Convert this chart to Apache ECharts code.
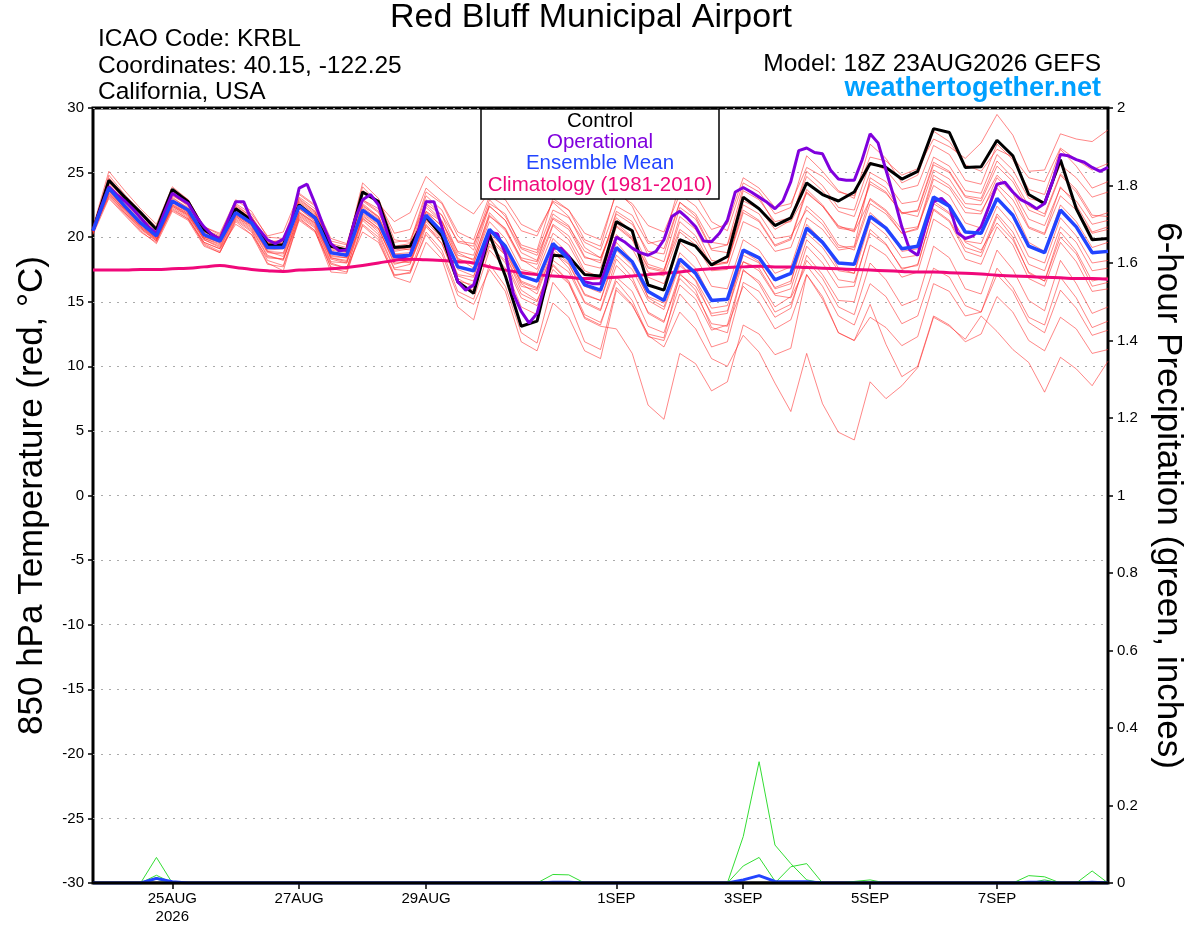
<!DOCTYPE html>
<html><head><meta charset="utf-8">
<script src="https://cdn.jsdelivr.net/npm/echarts@6/dist/echarts.min.js"></script>
<style>html,body{margin:0;padding:0;background:#fff}#c{width:1200px;height:927px}</style>
</head><body><div id="c"></div>
<script>
// 3-hourly time slots from 18Z 23AUG2026 (f000 .. f384)
const steps = Array.from({length:129}, (_, j) => 'f' + String(j*3).padStart(3,'0'));
const tickIdx = [10,26,42,66,82,98,114];
const tickLabels = ['25AUG\n2026','27AUG','29AUG','1SEP','3SEP','5SEP','7SEP'];

// 6-hourly series (65 values)
const control = [20.5, 24.4,23.1,21.9,20.6, 23.7,22.75,20.6,19.8, 22.2,21.3,19.4,19.4, 22.5,21.5,19.3,19.0, 23.5,22.75,19.2,19.3, 21.6,20.1,16.55,15.65, 20.2,17.0,13.1,13.5, 18.6,18.5,17.1,17.0, 21.2,20.5,16.3,15.9, 19.8,19.3,17.85,18.5, 23.1,22.2,20.9,21.5, 24.2,23.3,22.8,23.5, 25.7,25.4,24.5,25.1, 28.4,28.1,25.4,25.45, 27.5,26.3,23.3,22.6, 26.0,22.2,19.8,19.9];
const ensMean = [20.5, 23.8,22.4,21.1,20.1, 22.8,22.1,20.2,19.7, 21.9,21.1,19.2,19.2, 22.4,21.5,18.8,18.6, 22.1,21.2,18.5,18.6, 21.7,20.4,17.7,17.4, 20.6,19.3,17.0,16.6, 19.5,18.3,16.3,15.9, 19.2,18.1,15.8,15.1, 18.3,17.2,15.1,15.2, 19.0,18.4,16.7,17.2, 20.7,19.6,18.0,17.9, 21.6,20.7,19.1,19.3, 23.1,22.4,20.4,20.3, 23.0,21.7,19.3,18.8, 22.1,20.8,18.8,18.9];
const climatology = [17.45, 17.45,17.45,17.5,17.5, 17.55,17.6,17.7,17.8, 17.65,17.5,17.4,17.35, 17.45,17.5,17.55,17.65, 17.8,18.0,18.2,18.3, 18.25,18.2,18.1,18.0, 17.7,17.45,17.25,17.1, 17.0,16.9,16.8,16.85, 16.9,17.0,17.1,17.2, 17.3,17.45,17.55,17.65, 17.7,17.75,17.7,17.7, 17.65,17.6,17.55,17.5, 17.45,17.4,17.35,17.3, 17.3,17.25,17.2,17.15, 17.05,17.0,16.95,16.9, 16.85,16.8,16.8,16.75];

// operational, 3-hourly (129 values)
const operational = [20.5,22.3,23.9,23.3,22.8,22.2,21.5,20.8,20.3,21.9,
23.4,23.0,22.6,21.6,20.8,20.2,19.85,21.3,22.75,22.75,
21.3,20.55,19.8,19.5,19.85,21.2,23.8,24.1,22.6,20.95,
19.5,18.95,19.0,21.3,22.9,23.3,22.5,20.55,18.5,18.45,
18.6,20.4,22.75,22.75,20.8,18.5,16.55,15.9,16.3,18.25,
20.4,20.25,18.75,15.65,14.25,13.35,14.1,16.4,19.15,19.15,
18.5,17.2,16.55,16.4,16.4,18.2,20.0,19.65,19.15,18.8,
18.6,18.9,19.8,21.6,22.0,21.45,20.8,19.7,19.65,20.3,
21.3,23.5,23.85,23.5,23.1,22.7,22.2,22.8,24.3,26.7,
26.9,26.55,26.45,25.2,24.5,24.4,24.4,26.0,28.0,27.3,
25.2,23.1,20.8,19.0,18.6,20.8,22.75,23.0,22.4,20.35,
19.9,20.1,20.8,22.4,24.1,24.25,23.5,22.9,22.6,22.2,
22.6,24.3,26.4,26.3,26.0,25.8,25.4,25.1,25.4];

// ensemble members, 6-hourly
const member01 = [20.8, 25.1,23.6,22.2,21.0, 23.9,22.9,20.8,20.2, 22.6,21.8,20.1,20.4, 23.4,22.5,19.9,19.5, 23.6,22.8,20.3,20.6, 23.8,22.7,20.4,19.8, 23.2,22.4,20.5,20.1, 22.8,22.1,20.3,19.8, 23.4,22.6,20.9,20.4, 23.3,22.4,20.6,21.0, 24.6,23.8,22.3,22.6, 25.4,24.7,23.5,23.2, 26.2,25.9,24.8,25.3, 27.6,27.0,26.1,27.3, 29.5,27.9,25.1,25.2, 28.0,27.6,27.4,28.3];
const member02 = [20.4, 24.6,23.2,21.9,20.7, 23.6,22.8,20.6,19.9, 22.4,21.6,19.8,19.5, 23.1,22.2,19.5,19.2, 24.2,23.0,19.8,19.6, 23.5,22.6,20.1,19.0, 22.6,21.8,19.2,18.8, 22.1,21.5,19.6,19.0, 22.4,21.7,19.5,19.8, 24.1,23.3,21.2,20.5, 24.2,23.5,21.8,22.3, 26.3,25.1,23.6,23.0, 27.2,26.1,24.2,24.8, 28.2,27.4,25.6,25.1, 26.8,26.2,24.6,24.3, 26.9,26.0,25.2,25.7];
const member03 = [20.6, 24.2,22.9,21.5,20.6, 23.3,22.4,20.4,20.0, 22.3,21.5,19.7,19.6, 22.8,21.9,19.3,19.1, 23.9,22.6,21.2,21.9, 24.7,23.6,22.6,21.8, 23.5,22.9,21.0,20.4, 22.7,21.6,19.2,18.4, 21.5,20.4,17.9,17.5, 20.6,19.7,17.8,18.1, 22.1,21.3,19.4,19.9, 23.7,22.5,20.8,20.6, 24.1,23.4,21.9,22.0, 25.6,25.0,23.1,22.8, 25.5,24.3,22.1,21.6, 24.8,23.5,21.5,21.9];
const member04 = [20.5, 24.0,22.6,21.3,20.2, 23.0,22.3,20.4,19.8, 22.2,21.4,19.5,19.4, 22.7,21.8,19.1,18.9, 22.6,21.6,18.9,19.1, 22.5,21.3,18.6,18.3, 21.7,20.5,18.2,17.9, 21.0,20.1,17.9,17.6, 20.9,19.9,17.6,17.3, 21.2,20.1,17.8,18.0, 21.9,21.2,19.3,19.8, 23.5,22.4,20.7,20.5, 24.3,23.5,21.8,22.1, 25.8,25.1,23.2,23.0, 25.9,24.6,22.4,21.8, 24.9,23.7,21.7,21.6];
const member05 = [20.3, 23.5,22.1,20.8,19.8, 22.5,21.7,19.8,19.3, 21.6,20.8,18.8,18.7, 22.0,21.1,18.4,18.1, 21.6,20.7,18.0,18.1, 21.2,19.9,17.0,16.6, 19.8,18.6,16.2,15.9, 18.8,17.9,15.5,15.1, 18.6,17.5,15.1,14.4, 17.8,16.7,14.5,14.7, 18.6,18.0,16.1,16.6, 20.3,19.2,17.4,17.2, 21.2,20.2,18.4,18.6, 22.6,21.8,19.7,19.5, 22.4,21.0,18.5,18.0, 21.5,20.1,18.0,18.2];
const member06 = [20.2, 23.0,21.7,20.4,19.6, 22.2,21.4,19.5,18.9, 21.4,20.5,18.2,17.8, 21.6,20.7,17.6,17.3, 21.0,20.0,17.1,17.2, 20.4,19.0,15.8,15.2, 19.0,17.6,14.6,14.0, 17.5,16.4,13.8,13.2, 16.9,15.8,13.1,12.6, 16.3,15.2,12.8,13.2, 17.4,16.6,14.6,15.4, 19.3,18.0,16.1,16.2, 20.6,19.5,17.5,17.9, 22.1,21.2,18.9,18.5, 21.6,20.0,17.2,16.6, 20.4,18.9,16.6,16.9];
const member07 = [20.6, 23.9,22.5,21.1,20.0, 22.6,21.8,19.9,19.4, 21.7,20.9,18.9,18.5, 21.9,21.0,18.3,18.0, 21.4,20.6,18.2,18.6, 22.3,21.2,18.4,17.6, 20.2,18.6,15.9,15.1, 17.8,16.5,13.7,13.1, 12.9,11.0,7.0,5.9, 11.0,10.2,8.1,8.8, 13.2,12.5,10.9,11.4, 17.1,15.2,12.6,12.0, 13.8,13.0,11.6,12.3, 16.4,15.8,13.9,14.2, 17.6,16.1,13.8,13.2, 16.9,15.3,13.0,13.5];
const member08 = [20.4, 23.4,22.0,20.7,19.7, 22.4,21.6,19.6,19.1, 21.5,20.6,18.5,18.3, 21.7,20.8,18.0,17.6, 21.3,20.2,17.5,17.4, 20.8,19.5,16.4,15.9, 19.5,18.0,15.3,14.7, 17.9,16.6,14.0,13.4, 16.6,15.1,12.4,11.5, 14.2,12.9,10.6,10.0, 12.4,11.1,8.7,6.5, 11.0,7.1,4.9,4.3, 8.8,7.5,8.5,9.9, 13.8,13.1,12.1,13.9, 12.7,11.3,10.3,8.0, 10.7,9.8,8.5,10.4];
const member09 = [20.7, 23.7,22.3,21.0,20.2, 22.7,21.9,20.0,19.6, 21.8,21.0,19.0,19.1, 22.2,21.2,18.5,18.4, 21.8,20.9,18.3,18.0, 20.9,19.8,16.8,16.1, 19.3,18.2,15.6,15.0, 18.2,17.3,14.9,14.3, 17.8,16.6,14.2,13.5, 16.8,15.6,13.3,13.1, 16.2,15.0,12.9,13.6, 17.1,15.4,12.6,12.0, 14.8,11.7,9.2,10.0, 13.9,13.2,11.9,12.5, 15.4,14.2,12.0,11.2, 13.8,12.9,11.0,11.3];
const member10 = [20.3, 23.2,21.9,20.6,19.7, 22.3,21.5,19.4,18.8, 21.3,20.4,18.0,17.4, 21.5,20.5,17.3,17.2, 20.9,19.8,16.9,16.5, 19.6,18.3,14.6,13.6, 17.9,16.2,12.6,11.8, 16.5,15.0,11.9,11.3, 16.1,14.8,12.3,12.0, 15.6,14.2,11.5,11.9, 16.5,15.8,13.8,14.5, 18.6,17.1,15.1,15.0, 19.4,18.6,16.9,17.3, 21.4,20.6,18.3,17.9, 20.8,19.4,16.8,16.2, 19.6,18.1,15.8,16.0];
const member11 = [20.5, 24.3,22.9,21.6,20.4, 23.2,22.5,20.6,20.1, 22.1,21.3,19.6,19.8, 23.0,22.0,19.4,19.0, 22.9,22.0,19.2,19.0, 22.0,21.2,18.9,18.6, 22.4,21.3,18.8,18.2, 21.8,20.9,18.5,18.0, 22.0,21.2,18.6,18.1, 22.3,21.4,19.0,18.8, 23.6,22.9,21.2,21.5, 24.7,23.6,22.0,21.6, 25.0,24.3,22.6,22.8, 26.2,25.5,23.6,23.4, 26.4,25.2,23.0,22.7, 25.6,24.6,23.1,23.5];
const member12 = [20.6, 23.6,22.2,20.9,19.9, 22.7,21.9,20.0,19.6, 21.9,21.1,19.3,19.3, 22.5,21.6,18.9,18.5, 22.3,21.4,18.7,18.8, 22.0,20.8,18.3,18.0, 21.2,19.9,17.5,17.2, 20.3,19.4,17.2,17.0, 20.2,19.1,16.9,16.4, 19.6,18.5,16.2,16.0, 19.8,19.0,17.2,17.7, 21.5,20.6,19.0,19.2, 23.0,22.1,20.6,20.8, 24.0,23.2,21.1,20.7, 23.8,22.3,19.6,18.9, 22.5,21.2,19.2,19.6];
const member13 = [20.4, 23.3,21.9,20.7,19.8, 22.4,21.7,19.8,19.2, 21.6,20.7,18.6,18.2, 21.8,20.9,18.1,18.0, 21.5,20.4,17.6,17.9, 21.4,20.0,17.1,16.9, 20.6,19.0,16.4,15.6, 18.9,17.6,15.0,14.4, 18.3,16.9,14.1,13.4, 17.2,15.9,13.0,12.6, 17.5,16.4,14.2,14.8, 18.2,16.8,14.6,14.0, 18.0,16.7,14.7,15.2, 19.3,18.4,16.0,15.6, 19.0,17.5,15.1,14.3, 18.2,16.4,14.1,14.6];
const member14 = [20.7, 24.5,23.0,21.7,20.6, 23.5,22.6,20.5,20.0, 22.5,21.6,19.6,19.5, 22.9,22.0,19.2,18.9, 22.8,21.9,19.3,19.5, 23.2,22.1,19.6,19.3, 22.9,21.6,19.4,19.0, 23.0,22.1,19.8,19.3, 23.6,22.4,19.7,19.1, 22.7,21.6,19.1,19.4, 23.9,23.1,21.0,21.2, 23.4,22.4,20.9,20.4, 22.9,22.0,20.3,20.6, 24.5,23.8,21.9,21.8, 24.6,23.4,20.8,20.3, 23.9,22.5,20.4,20.8];
const member15 = [20.5, 23.1,21.8,20.5,19.5, 22.0,21.3,19.3,18.8, 21.2,20.2,17.9,17.7, 21.3,20.4,17.7,17.5, 21.7,20.7,17.9,18.2, 21.0,19.5,16.6,16.3, 20.0,18.8,16.5,16.0, 19.9,18.7,16.2,15.7, 19.6,18.2,15.3,14.6, 18.0,16.6,13.9,14.1, 18.9,18.1,16.0,16.4, 21.0,19.7,17.6,17.2, 21.9,20.8,18.9,19.1, 22.8,21.9,19.6,19.0, 21.1,19.8,17.3,16.6, 20.0,18.7,16.2,16.5];
const member16 = [20.6, 24.8,23.3,22.0,20.8, 23.7,22.9,20.8,20.3, 22.9,22.0,20.0,19.9, 23.3,22.4,19.7,19.4, 22.9,22.2,19.6,19.8, 22.6,21.7,19.7,19.5, 22.4,21.3,19.1,18.6, 21.4,20.6,18.4,18.2, 21.8,21.0,18.9,18.7, 22.7,21.8,19.6,19.4, 22.8,22.2,20.6,21.3, 25.1,24.0,22.3,22.1, 25.8,25.2,23.7,24.0, 27.1,26.4,24.4,24.1, 27.2,26.0,23.7,23.3, 26.8,25.5,23.8,24.3];
const member17 = [20.3, 23.6,22.2,20.9,19.9, 22.1,21.4,19.6,19.1, 21.0,20.2,18.4,18.3, 21.4,20.5,17.9,17.6, 20.4,19.6,17.0,17.3, 20.2,18.7,15.5,14.8, 17.5,15.8,11.9,11.2, 14.9,13.8,11.2,10.6, 15.9,14.7,12.5,12.2, 17.1,16.2,14.1,14.3, 18.1,17.6,15.6,16.0, 19.8,18.6,16.7,16.5, 20.3,19.4,17.6,17.8, 22.2,21.3,19.2,18.8, 21.8,20.4,17.9,17.4, 20.8,19.6,17.4,17.6];
const member18 = [20.4, 24.1,22.7,21.4,20.3, 22.9,22.1,20.2,19.8, 22.0,21.2,19.4,19.3, 22.2,21.3,18.6,18.4, 22.5,21.5,18.7,18.5, 21.9,20.9,18.2,17.9, 21.6,20.7,18.3,17.5, 20.9,19.8,17.4,16.9, 20.8,19.8,17.3,17.0, 20.4,19.4,17.4,17.5, 21.2,20.6,18.9,19.2, 22.4,21.3,19.4,19.0, 22.6,21.8,20.3,20.7, 24.8,24.0,22.3,22.0, 24.1,22.9,20.7,20.2, 23.2,22.1,20.3,20.6];
const member19 = [20.5, 23.4,22.1,20.8,19.9, 22.5,21.8,19.9,19.5, 21.7,20.9,18.9,18.8, 21.9,21.1,18.4,18.2, 21.9,21.0,18.4,18.3, 21.3,20.3,17.5,17.0, 20.3,19.1,16.6,16.1, 19.1,18.0,15.6,15.1, 19.0,17.8,15.4,14.9, 18.8,17.6,15.2,15.1, 18.1,17.4,15.5,15.3, 17.8,16.2,13.9,13.2, 16.4,15.4,13.3,13.9, 17.6,16.9,14.7,14.2, 17.1,15.8,13.4,12.6, 15.9,14.5,12.4,12.8];
const member20 = [20.8, 24.4,22.9,21.4,20.3, 23.1,22.2,20.2,19.9, 22.3,21.4,19.5,19.7, 22.6,21.7,19.0,18.8, 22.4,21.6,19.0,19.2, 22.9,21.7,18.8,18.2, 21.9,20.6,18.4,18.1, 21.5,20.8,18.9,18.4, 21.1,20.0,17.7,17.4, 21.6,20.6,18.2,18.0, 22.5,21.8,19.9,20.1, 22.1,21.0,19.2,19.3, 24.6,23.8,21.9,21.6, 25.2,24.5,22.6,22.5, 24.8,23.6,21.4,20.9, 23.8,22.8,21.0,21.3];
const members = [member01,member02,member03,member04,member05,member06,member07,member08,member09,member10,
                 member11,member12,member13,member14,member15,member16,member17,member18,member19,member20];

// 6-hour precipitation (inches), 6-hourly
const precipControl = [0,0,0,0,0,0,0,0,0,0, 0,0,0,0,0,0,0,0,0,0, 0,0,0,0,0,0,0,0,0,0, 0,0,0,0,0,0,0,0,0,0, 0,0,0,0,0,0,0,0,0,0, 0,0,0,0,0,0,0,0,0,0, 0,0,0,0,0];
const precipMean = [0,0,0,0,0.012,0.003,0,0,0,0, 0,0,0,0,0,0,0,0,0,0, 0,0,0,0,0,0,0,0,0,0.002, 0.002,0,0,0,0,0,0,0,0,0, 0,0.008,0.019,0.004,0.003,0.003,0,0,0,0, 0,0,0,0,0,0,0,0,0,0.002, 0.002,0,0,0.002,0];
const precip01 = [0,0,0,0,0.066,0,0,0,0,0, 0,0,0,0,0,0,0,0,0,0, 0,0,0,0,0,0,0,0,0,0, 0,0,0,0,0,0,0,0,0,0, 0,0.12,0.313,0.098,0.05,0.008,0,0,0,0, 0,0,0,0,0,0,0,0,0,0, 0,0,0,0,0];
const precip02 = [0,0,0,0,0.02,0,0,0,0,0, 0,0,0,0,0,0,0,0,0,0, 0,0,0,0,0,0,0,0,0,0, 0,0,0,0,0,0,0,0,0,0, 0,0.044,0.066,0.005,0,0,0,0,0,0, 0,0,0,0,0,0,0,0,0,0.019, 0.016,0,0,0,0];
const precip03 = [0,0,0,0,0.014,0,0,0,0,0, 0,0,0,0,0,0,0,0,0,0, 0,0,0,0,0,0,0,0,0,0.022, 0.021,0,0,0,0,0,0,0,0,0, 0,0,0,0,0.042,0.05,0,0,0,0, 0,0,0,0,0,0,0,0,0,0, 0,0,0,0.031,0];
const precip04 = [0,0,0,0,0.01,0,0,0,0,0, 0,0,0,0,0,0,0,0,0,0, 0,0,0,0,0,0,0,0,0,0, 0,0,0,0,0,0,0,0,0,0, 0,0,0,0,0,0,0,0,0.004,0.008, 0,0,0,0,0,0,0,0,0,0, 0.008,0,0,0,0];
const precipMembers = [precip01, precip02, precip03, precip04];

const FONT = 'Liberation Sans, Arial, Helvetica, sans-serif';
const six = arr => arr.map((v, i) => [2 * i, v]);
const isTick = (idx) => tickIdx.indexOf(idx) >= 0;

const series = [];
members.forEach((m, k) => series.push({
  name: 'member' + (k + 1), type: 'line', data: six(m), symbol: 'none', silent: true,
  lineStyle: {color: 'rgba(255,45,45,0.72)', width: 0.8}, z: 2
}));
precipMembers.forEach((m, k) => series.push({
  name: 'precip' + (k + 1), type: 'line', yAxisIndex: 1, data: six(m), symbol: 'none', silent: true,
  lineStyle: {color: '#33dd33', width: 1}, z: 3
}));
series.push({name: 'Climatology', type: 'line', data: six(climatology), symbol: 'none', smooth: true,
  lineStyle: {color: '#f0087a', width: 3}, z: 4});
series.push({name: 'Control', type: 'line', data: six(control), symbol: 'none',
  lineStyle: {color: '#000000', width: 3}, z: 5});
series.push({name: 'Operational', type: 'line', data: operational.map((v, j) => [j, v]), symbol: 'none',
  lineStyle: {color: '#8000dd', width: 3}, z: 6});
series.push({name: 'Ensemble Mean', type: 'line', data: six(ensMean), symbol: 'none',
  lineStyle: {color: '#2244ff', width: 3.5}, z: 7});
series.push({name: 'precipMean', type: 'line', yAxisIndex: 1, data: six(precipMean), symbol: 'none',
  lineStyle: {color: '#2244ff', width: 3}, z: 7});
series.push({name: 'precipControl', type: 'line', yAxisIndex: 1, data: six(precipControl), symbol: 'none',
  lineStyle: {color: '#000000', width: 3}, z: 8});

const legendItems = [
  {text: 'Control', color: '#000000', y: 121},
  {text: 'Operational', color: '#8000dd', y: 142},
  {text: 'Ensemble Mean', color: '#2244ff', y: 163},
  {text: 'Climatology (1981-2010)', color: '#f0087a', y: 185}
];

const chart = echarts.init(document.getElementById('c'));
chart.setOption({
  animation: false,
  backgroundColor: '#ffffff',
  grid: {left: 93, right: 92, top: 108, bottom: 44, show: true, borderColor: '#000', borderWidth: 3, backgroundColor: 'transparent'},
  xAxis: {
    type: 'category', data: steps, boundaryGap: false,
    axisLine: {show: false, onZero: false},
    axisTick: {show: true, interval: isTick, length: 6, lineStyle: {color: '#000', width: 1.5}},
    axisLabel: {interval: isTick, formatter: (v, idx) => tickLabels[tickIdx.indexOf(idx)] || '',
      fontSize: 15, color: '#000', fontFamily: FONT, margin: 7, lineHeight: 18},
    splitLine: {show: false}
  },
  yAxis: [{
    type: 'value', min: -30, max: 30, interval: 5, position: 'left',
    axisLine: {show: false},
    axisTick: {show: true, length: 5, lineStyle: {color: '#000', width: 1.5}},
    axisLabel: {fontSize: 15, color: '#000', fontFamily: FONT, margin: 9},
    splitLine: {show: true, lineStyle: {color: '#aaaaaa', type: [2, 6], width: 1}},
    name: '850 hPa Temperature (red, °C)', nameLocation: 'middle', nameGap: 43,
    nameTextStyle: {fontSize: 35, color: '#000', fontFamily: FONT}
  }, {
    type: 'value', min: 0, max: 2, interval: 0.2, position: 'right',
    axisLine: {show: false},
    axisTick: {show: true, length: 5, lineStyle: {color: '#000', width: 1.5}},
    axisLabel: {fontSize: 15, color: '#000', fontFamily: FONT, margin: 9},
    splitLine: {show: false},
    name: '6-hour Precipitation (green, inches)', nameLocation: 'middle', nameRotate: -90, nameGap: 42,
    nameTextStyle: {fontSize: 35, color: '#000', fontFamily: FONT}
  }],
  series: series,
  graphic: [
    {type: 'text', x: 591, y: 18, style: {text: 'Red Bluff Municipal Airport', fill: '#000', font: '34px ' + FONT, align: 'center', verticalAlign: 'middle'}},
    {type: 'text', x: 98, y: 39, style: {text: 'ICAO Code: KRBL', fill: '#000', font: '24.5px ' + FONT, align: 'left', verticalAlign: 'middle'}},
    {type: 'text', x: 98, y: 66, style: {text: 'Coordinates: 40.15, -122.25', fill: '#000', font: '24.5px ' + FONT, align: 'left', verticalAlign: 'middle'}},
    {type: 'text', x: 98, y: 92, style: {text: 'California, USA', fill: '#000', font: '24.5px ' + FONT, align: 'left', verticalAlign: 'middle'}},
    {type: 'text', x: 1101, y: 64, style: {text: 'Model: 18Z 23AUG2026 GEFS', fill: '#000', font: '24.5px ' + FONT, align: 'right', verticalAlign: 'middle'}},
    {type: 'text', x: 1101, y: 89, style: {text: 'weathertogether.net', fill: '#00a0ff', font: 'bold 27px ' + FONT, align: 'right', verticalAlign: 'middle'}},
    {type: 'rect', z: 100, shape: {x: 481, y: 109, width: 238, height: 90}, style: {fill: '#fff', stroke: '#000', lineWidth: 1.5}},
    ...legendItems.map(it => ({type: 'text', z: 101, x: 600, y: it.y,
      style: {text: it.text, fill: it.color, font: '20.5px ' + FONT, align: 'center', verticalAlign: 'middle'}}))
  ]
});
</script>
</body></html>
